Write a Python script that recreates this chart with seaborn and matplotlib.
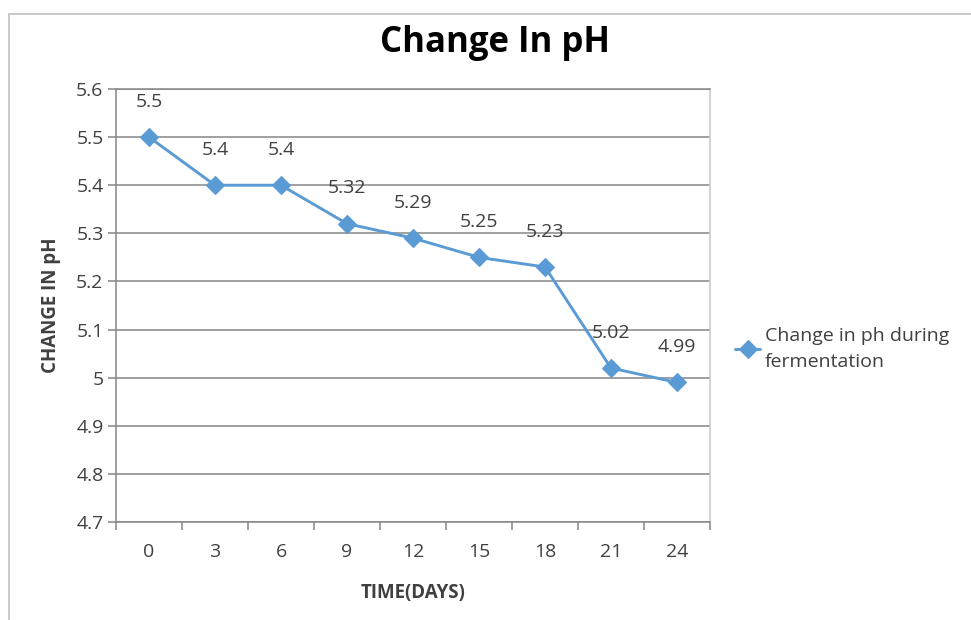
import matplotlib
matplotlib.use("Agg")
import matplotlib.pyplot as plt
import seaborn as sns
import pandas as pd
from matplotlib.lines import Line2D

days = ["0", "3", "6", "9", "12", "15", "18", "21", "24"]
ph = [5.5, 5.4, 5.4, 5.32, 5.29, 5.25, 5.23, 5.02, 4.99]
ph_labels = ["5.5", "5.4", "5.4", "5.32", "5.29", "5.25", "5.23", "5.02", "4.99"]
yticks = [4.7, 4.8, 4.9, 5.0, 5.1, 5.2, 5.3, 5.4, 5.5, 5.6]
ytick_labels = ["4.7", "4.8", "4.9", "5", "5.1", "5.2", "5.3", "5.4", "5.5", "5.6"]
series_name = "Change in ph during\nfermentation"
title = "Change In pH"
xlabel = "TIME(DAYS)"
ylabel = "CHANGE IN pH"

sns.set_theme(style="white")
plt.rcParams["font.family"] = ["Open Sans", "DejaVu Sans"]

BLUE = "#5b9bd5"
GRID = "#868686"
TEXT = "#404040"
FS = 14

df = pd.DataFrame({"day": days, "ph": ph})

fig = plt.figure(figsize=(9.71, 6.2), dpi=100)
ax = fig.add_axes([116 / 971, 1 - 522 / 620, (710 - 116) / 971, (522 - 89) / 620])

sns.lineplot(data=df, x="day", y="ph", sort=False, ax=ax, color=BLUE,
             linewidth=2.1, marker="D", markersize=9, markeredgecolor=BLUE,
             markeredgewidth=0.8, label=series_name)

n = len(days)
ax.set_xlim(-0.5, n - 0.5)
ax.set_ylim(4.7, 5.6)
ax.set_yticks(yticks)
ax.set_yticklabels(ytick_labels)
ax.yaxis.grid(True, color=GRID, linewidth=1.1)
ax.xaxis.grid(False)
ax.set_axisbelow(True)

ax.set_xticks(range(n))
ax.set_xticklabels(days)
ax.tick_params(axis="x", which="major", length=0, pad=15, labelsize=FS, labelcolor=TEXT)
ax.set_xticks([i - 0.5 for i in range(n + 1)], minor=True)
ax.tick_params(axis="x", which="minor", length=6, width=1.1, color=GRID, direction="out", bottom=True)
ax.tick_params(axis="y", length=6, width=1.1, color=GRID, direction="out", left=True,
               labelsize=FS, labelcolor=TEXT, pad=3)

for side in ["left", "bottom", "top"]:
    ax.spines[side].set_color(GRID)
    ax.spines[side].set_linewidth(1.1)
ax.spines["right"].set_color("#c8c8c8")
ax.spines["right"].set_linewidth(1.1)

for i, (v, lab) in enumerate(zip(ph, ph_labels)):
    ax.annotate(lab, (i, v), xytext=(0, 25.5), textcoords="offset points",
                ha="center", va="center", fontsize=FS, color=TEXT)

ax.set_xlabel(xlabel, fontsize=13.5, fontweight="bold", color=TEXT, labelpad=16)
ax.set_ylabel(ylabel, fontsize=13.5, fontweight="bold", color=TEXT, labelpad=11)
fig.text(0.5 * (378 + 612) / 971, 1 - 43 / 620, title, ha="center", va="center",
         fontsize=25, fontweight="bold", color="#000000")

leg = ax.legend(loc="center left", bbox_to_anchor=(1.042, 0.4),
                bbox_transform=ax.transAxes, frameon=False, borderpad=0, borderaxespad=0,
                fontsize=FS, handlelength=1.3, handletextpad=0.25, labelcolor=TEXT)
for t in leg.get_texts():
    t.set_linespacing(1.6)

fig.add_artist(Line2D([9 / 971, 9 / 971], [0, 1 - 14 / 620], color="#bcbcbc", linewidth=1.1,
                      transform=fig.transFigure))
fig.add_artist(Line2D([9 / 971, 1], [1 - 14 / 620, 1 - 14 / 620], color="#bcbcbc", linewidth=1.1,
                      transform=fig.transFigure))

fig.savefig("out.png", dpi=100)
